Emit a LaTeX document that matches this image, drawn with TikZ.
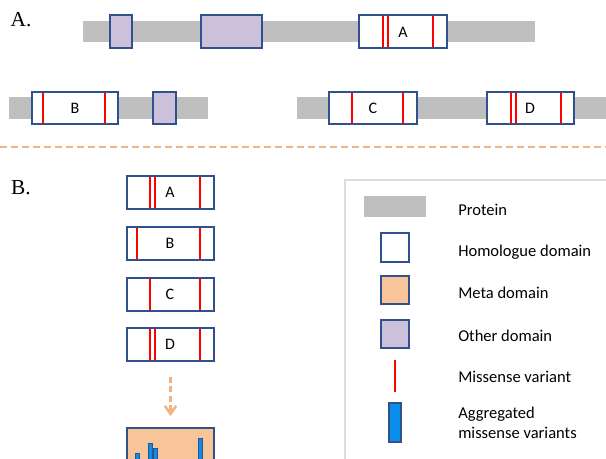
\documentclass[tikz,border=0pt]{standalone}
\usepackage{fontspec}
\setmainfont{Carlito}
\newfontfamily\panelfont{Liberation Serif}
\usetikzlibrary{fit,arrows.meta}

\definecolor{protgray}{HTML}{BFBFBF}
\definecolor{otherpurple}{HTML}{CCC1DA}
\definecolor{domblue}{HTML}{2F528F}
\definecolor{varred}{HTML}{FF0000}
\definecolor{metafill}{HTML}{F8C59A}
\definecolor{dashorange}{HTML}{F4B183}
\definecolor{aggblue}{HTML}{0B8DEB}
\definecolor{framegray}{HTML}{DDDDDD}

\tikzset{
  protein/.style={fill=protgray, draw=none},
  homol/.style={draw=domblue, fill=white, line width=1.5pt, inner sep=0pt, outer sep=0pt},
  otherdom/.style={draw=domblue, fill=otherpurple, line width=1.5pt, inner sep=0pt, outer sep=0pt},
  metadom/.style={draw=domblue, fill=metafill, line width=1.5pt, inner sep=0pt, outer sep=0pt},
  variant/.style={draw=varred, line width=1.8pt},
  aggbar/.style={draw=domblue, fill=aggblue, line width=0.5pt},
  boxlabel/.style={font=\fontsize{12}{14}\selectfont, inner sep=0pt},
  legtext/.style={font=\fontsize{12.4}{15}\selectfont, anchor=west, align=left, inner sep=0pt},
  panel/.style={font=\panelfont\fontsize{16}{18}\selectfont, inner sep=0pt},
}

\begin{document}
\begin{tikzpicture}[x=0.75pt, y=-0.75pt]
\useasboundingbox (0,0) rectangle (606,458);
\clip (0,0) rectangle (606,458);
\fill[white] (0,0) rectangle (606,458);

% ---------- Panel A: proteins with their domains ----------
\node[panel] (labA) at (21,20) {A.};

\fill[protein] (83,21) rectangle (535,42);
\node[otherdom, fit={(110,15) (132,48)}] (pA1) {};
\node[otherdom, fit={(201,15) (262,48)}] (pA2) {};
\node[homol, fit={(359,15) (447,48)}] (hA) {};
\foreach \xv in {383,388,433} \draw[variant] (\xv,15.75) -- (\xv,47.25);
\node[boxlabel] at (403,32) {A};

\fill[protein] (9,97) rectangle (208,119);
\node[homol, fit={(32,92) (118,124)}] (hB) {};
\foreach \xv in {43,105} \draw[variant] (\xv,92.75) -- (\xv,123.25);
\node[boxlabel] at (75,108) {B};
\node[otherdom, fit={(153,92) (176,124)}] (pB1) {};

\fill[protein] (297,97) rectangle (610,119);
\node[homol, fit={(329,92) (417,124)}] (hC) {};
\foreach \xv in {352,403} \draw[variant] (\xv,92.75) -- (\xv,123.25);
\node[boxlabel] at (373,108) {C};
\node[homol, fit={(487,92) (574,124)}] (hD) {};
\foreach \xv in {511,516,561} \draw[variant] (\xv,92.75) -- (\xv,123.25);
\node[boxlabel] at (530,108) {D};

% separator between the panels
\draw[dashorange, line width=1.5pt, dash pattern=on 5.25pt off 3pt] (0,147) -- (606,147);

% ---------- Panel B: aligned homologue domains ----------
\node[panel] (labB) at (21,188) {B.};

\node[homol, fit={(127,176) (214,209)}] (bA) {};
\foreach \xv in {150,155,200} \draw[variant] (\xv,176.75) -- (\xv,208.25);
\node[boxlabel] at (170,192) {A};

\node[homol, fit={(127,227) (214,260)}] (bB) {};
\foreach \xv in {137,200} \draw[variant] (\xv,227.75) -- (\xv,259.25);
\node[boxlabel] at (170,243) {B};

\node[homol, fit={(127,278) (214,311)}] (bC) {};
\foreach \xv in {150,200} \draw[variant] (\xv,278.75) -- (\xv,310.25);
\node[boxlabel] at (170,294) {C};

\node[homol, fit={(127,328) (214,361)}] (bD) {};
\foreach \xv in {150,155,200} \draw[variant] (\xv,328.75) -- (\xv,360.25);
\node[boxlabel] at (170,344) {D};

% meta domain with the aggregated variants
\node[metadom, fit={(127,428) (214,490)}] (meta) {};
\draw[aggbar] (135,453) rectangle (139,490);
\draw[aggbar] (148,443) rectangle (152,490);
\draw[aggbar] (153,448) rectangle (157,490);
\draw[aggbar] (198,438) rectangle (202,490);

\draw[dashorange, line width=1.9pt, dash pattern=on 4.5pt off 2.5pt,
      -{Straight Barb[length=6pt, width=8.5pt, line width=1.9pt]},
      shorten <=12pt, shorten >=9pt] (bD.south) -- (meta.north);

% ---------- Legend ----------
\draw[framegray, line width=1.2pt] (345,180) rectangle (640,490);

\fill[protein] (364,196) rectangle (426,217);
\node[legtext] (tProt) at (458,210) {Protein};

\node[homol, fit={(381,233) (409,262)}] (sHom) {};
\node[legtext] (tHom) at (458,252) {Homologue domain};

\node[metadom, fit={(381,276) (409,304)}] (sMeta) {};
\node[legtext] (tMeta) at (458,293) {Meta domain};

\node[otherdom, fit={(381,320) (409,348)}] (sOther) {};
\node[legtext] (tOther) at (458,336) {Other domain};

\draw[variant] (395,360) -- (395,392);
\node[legtext] (tMis) at (458,377) {Missense variant};

\draw[aggbar, line width=1.2pt] (389,403) rectangle (401,442);
\node[legtext] (tAgg) at (458,423) {Aggregated\\missense variants};
\end{tikzpicture}
\end{document}
